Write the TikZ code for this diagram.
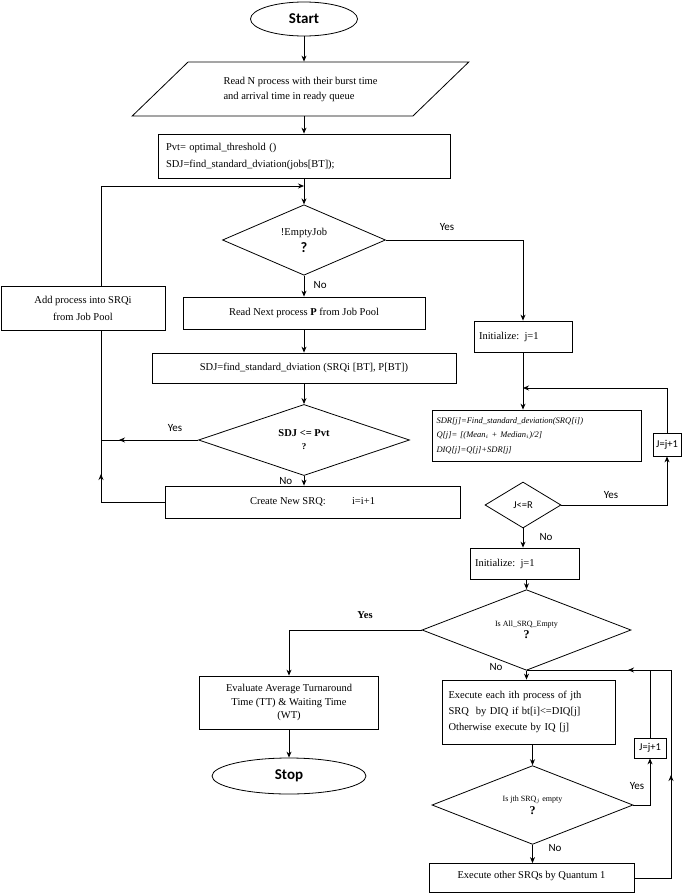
\documentclass[tikz,border=0pt]{standalone}
\usepackage{fontspec}
\setmainfont{Liberation Serif}
\newfontfamily\calib{Carlito}
\usetikzlibrary{shapes.geometric,arrows.meta,calc}
\begin{document}
\begin{tikzpicture}[x=1pt,y=-1pt,line width=0.8pt,
  box/.style={draw,rectangle,inner sep=2pt,font=\fontsize{10.5}{13}\selectfont,align=center},
  dia/.style={draw,diamond,inner sep=0pt,align=center,font=\fontsize{10.5}{13}\selectfont},
  term/.style={draw,ellipse,inner sep=0pt,font=\calib\bfseries\fontsize{15}{17}\selectfont},
  arr/.style={-{Stealth[length=6pt,width=5pt]}},
  lab/.style={font=\calib\fontsize{11}{13}\selectfont}]
\useasboundingbox (0,0) rectangle (685,894);
\node[term,minimum width=107pt,minimum height=34pt] (start) at (304,19) {Start};
\node[draw,trapezium,trapezium left angle=32.7,trapezium right angle=147.3,trapezium stretches=true,minimum width=337pt,minimum height=54pt,inner sep=0pt,font=\fontsize{10.5}{15}\selectfont,align=left] (read) at (300.5,89) {Read N process with their burst time\\and arrival time in ready queue};
\node[box,minimum width=292pt,minimum height=44pt,text width=276pt,align=left,font=\fontsize{10.5}{17}\selectfont] (pvt) at (304,156) {Pvt= optimal\_threshold ()\\SDJ=find\_standard\_dviation(jobs[BT]);};
\coordinate (cj) at (304,186);
\coordinate (lx) at (101,186);
\node[dia,minimum width=163pt,minimum height=70pt] (empty) at (304,240) {!EmptyJob\\[4pt]{\calib\bfseries\Large ?}};
\node[box,minimum width=98pt,minimum height=31pt,text width=88pt,align=left] (init1) at (523,336.5) {Initialize: j=1};
\node[box,minimum width=164pt,minimum height=44pt,font=\fontsize{10.5}{17}\selectfont] (add) at (83,308) {Add process into SRQi\\from Job Pool};
\node[box,minimum width=242pt,minimum height=32pt] (readnext) at (304,313) {Read Next process \textbf{P} from Job Pool};
\node[box,minimum width=304pt,minimum height=30pt] (sdj) at (304,368) {SDJ=find\_standard\_dviation (SRQi [BT], P[BT])};
\node[dia,minimum width=211pt,minimum height=55pt] (sdjd) at (304,440) {\textbf{SDJ <= Pvt}\\{\bfseries\small ?}};
\node[box,minimum width=295pt,minimum height=32pt] (create) at (312.5,502) {Create New SRQ:\hspace{2.5em}i=i+1};
\node[box,minimum width=209pt,minimum height=51pt,text width=200pt,align=left,font=\itshape\fontsize{8.5}{14.5}\selectfont] (sdr) at (536.5,435.5) {SDR[j]=Find\_standard\_deviation(SRQ[i])\\Q[j]= [(Mean$_i$ + Median$_i$)/2]\\DIQ[j]=Q[j]+SDR[j]};
\node[box,inner sep=1pt,minimum width=28pt,minimum height=23pt,font=\calib\fontsize{10.5}{12}\selectfont] (jj1) at (667,444.5) {J=j+1};
\node[dia,minimum width=76pt,minimum height=46pt,font=\calib\fontsize{10.5}{12}\selectfont] (jr) at (523,505) {J<=R};
\node[box,minimum width=109pt,minimum height=31pt,text width=99pt,align=left] (init2) at (524.5,563.5) {Initialize: j=1};
\node[dia,minimum width=209pt,minimum height=62pt,font=\fontsize{8}{10}\selectfont] (isall) at (526.5,630) {Is All\_SRQ\_Empty\\[2pt]{\bfseries\large ?}};
\node[box,minimum width=179pt,minimum height=53pt,font=\fontsize{10.5}{13.5}\selectfont] (eval) at (289,702.5) {Evaluate Average Turnaround\\Time (TT) \& Waiting Time\\(WT)};
\node[term,minimum width=154pt,minimum height=36pt] (stop) at (289,776) {Stop};
\node[box,minimum width=173pt,minimum height=64pt,text width=160pt,align=left,font=\fontsize{10.5}{16}\selectfont] (exec) at (528.5,712) {Execute each ith process of jth\\SRQ\ \ by DIQ if bt[i]<=DIQ[j]\\Otherwise execute by IQ [j]};
\node[dia,minimum width=201pt,minimum height=62pt,font=\fontsize{8}{10}\selectfont] (isj) at (532.5,805) {Is jth SRQ$_j$ empty\\[2pt]{\bfseries\large ?}};
\node[box,inner sep=1pt,minimum width=32pt,minimum height=20pt,font=\calib\fontsize{10.5}{12}\selectfont] (jj2) at (650,748) {J=j+1};
\node[box,minimum width=205pt,minimum height=29pt] (other) at (531.5,878) {\raisebox{7pt}{Execute other SRQs by Quantum 1}};
\coordinate (r1) at (523,388);
\coordinate (rr) at (671,670);
% main column
\draw[arr] (start) -- (start |- read.north);
\draw[arr] (read.south -| start) -- (pvt.north -| start);
\draw[arr] (pvt.south) -- (empty.north);
\draw[arr] (empty.south) -- node[lab,right,pos=0.45,xshift=6pt]{No} (readnext.north);
\draw[arr] (readnext.south) -- (sdj.north);
\draw[arr] (sdj.south) -- (sdjd.north);
\draw[arr] (sdjd.south) -- node[lab,left,xshift=-8pt]{No} (sdjd.south |- create.north);
% left loop
\draw (create.west) -- (create.west -| lx) -- (lx |- add.south);
\draw[arr] (create.west -| lx) -- ++(0,-28);
\draw (sdjd.west) -- (sdjd.west -| lx);
\draw[arr] (sdjd.west) -- ($(sdjd.west -| lx)+(18,0)$);
\node[lab] (yes1) at (175,428) {Yes};
\draw[arr] (lx |- add.north) -- (lx) -- (cj);
% right column top
\draw[arr] (empty.east) -| (init1.north);
\node[lab] (yes2) at (447,227) {Yes};
\draw[arr] (init1.south) -- (init1.south |- sdr.north);
\draw[arr] (jj1.north) |- (r1);
\draw[arr] (jr.east) -| (jj1.south);
\node[lab] (yes3) at (611,495) {Yes};
\draw[arr] (jr.south) -- (jr.south |- init2.north);
\node[lab] (no3) at (546,537) {No};
\draw[arr] (init2.south -| isall) -- (isall.north);
\draw[arr] (isall.west) -| (eval.north);
\node[lab,font=\bfseries\fontsize{10.5}{12}\selectfont] (yes4) at (365,615) {Yes};
\draw[arr] (eval.south) -- (stop.north);
\draw[arr] (isall.south) -- (isall.south |- exec.north);
\node[lab] (no4) at (496,667) {No};
\draw[arr] (isj.north |- exec.south) -- (isj.north);
\draw[arr] (isj.east) -| (jj2.south);
\node[lab] (yes5) at (637,786) {Yes};
\draw (jj2.north) -- (jj2.north |- rr);
\draw[arr] (isj.south) -- (isj.south |- other.north);
\node[lab] (no5) at (555,848) {No};
\draw (other.east) -- (other.east -| rr) -- (rr) -- (isall.south |- rr);
\draw[arr] (other.east -| rr) -- (671,775);
\draw[arr] (rr) -- (628,670);
\end{tikzpicture}
\end{document}
